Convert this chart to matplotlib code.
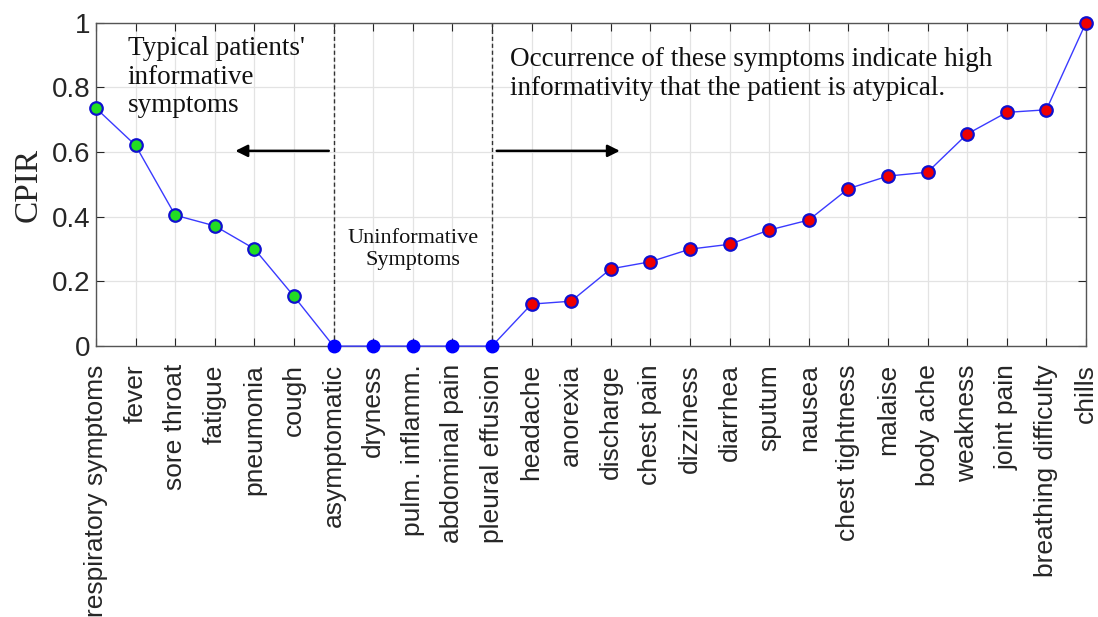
import numpy as np
import matplotlib
matplotlib.use("Agg")
import matplotlib.pyplot as plt

symptoms = ["respiratory symptoms", "fever", "sore throat", "fatigue", "pneumonia", "cough",
            "asymptomatic", "dryness", "pulm. inflamm.", "abdominal pain", "pleural effusion",
            "headache", "anorexia", "discharge", "chest pain", "dizziness", "diarrhea", "sputum",
            "nausea", "chest tightness", "malaise", "body ache", "weakness", "joint pain",
            "breathing difficulty", "chills"]
cpir = [0.736, 0.621, 0.405, 0.372, 0.301, 0.154,
        0.0, 0.0, 0.0, 0.0, 0.0,
        0.130, 0.139, 0.239, 0.261, 0.300, 0.315, 0.359,
        0.390, 0.487, 0.526, 0.538, 0.656, 0.723, 0.731, 1.0]
n_typical = 6
n_uninf = 5

x = np.arange(len(symptoms))
y = np.array(cpir)
i0, i1 = n_typical, n_typical + n_uninf - 1   # dashed boundaries

serif = "Liberation Serif"
sans = "Liberation Sans"
tc = "#262626"

fig = plt.figure(figsize=(10.98, 6.17), dpi=100)
ax = fig.add_axes([0.0874, 0.439, 0.9016, 0.524])

ax.plot(x, y, color="#3a3aff", linewidth=1.0, zorder=3, clip_on=False)
ax.plot(x[:i0], y[:i0], "o", markersize=9, markerfacecolor="#22dd22",
        markeredgecolor="#1010d0", markeredgewidth=1.6, zorder=4, clip_on=False)
ax.plot(x[i0:i1 + 1], y[i0:i1 + 1], "o", markersize=9, markerfacecolor="#0000ff",
        markeredgecolor="#0000ff", zorder=4, clip_on=False)
ax.plot(x[i1 + 1:], y[i1 + 1:], "o", markersize=9, markerfacecolor="#ee0000",
        markeredgecolor="#1010d0", markeredgewidth=1.6, zorder=4, clip_on=False)

ax.axvline(i0, ymin=0, ymax=1, color="#333333", linestyle=(0, (3, 2)), linewidth=1.0, zorder=2)
ax.axvline(i1, ymin=0, ymax=1, color="#333333", linestyle=(0, (3, 2)), linewidth=1.0, zorder=2)

ax.annotate("", xy=(3.45, 0.604), xytext=(i0 - 0.05, 0.604),
            arrowprops=dict(arrowstyle="-|>", color="black", lw=1.8, mutation_scale=18))
ax.annotate("", xy=(13.3, 0.604), xytext=(i1 + 0.05, 0.604),
            arrowprops=dict(arrowstyle="-|>", color="black", lw=1.8, mutation_scale=18))

ax.text(0.8, 0.96, "Typical patients'\ninformative\nsymptoms", family=serif, fontsize=19.5,
        va="top", ha="left", linespacing=1.2, color="#111111")
ax.text(10.45, 0.925, "Occurrence of these symptoms indicate high\ninformativity that the patient is atypical.",
        family=serif, fontsize=19.5, va="top", ha="left", linespacing=1.2, color="#111111")
ax.text(8, 0.30, "Uninformative\nSymptoms", family=serif, fontsize=16, va="center", ha="center",
        linespacing=1.2, color="#111111")

ax.set_xlim(0, len(symptoms) - 1)
ax.set_ylim(0, 1)
ax.set_xticks(x)
ax.set_xticklabels(symptoms, rotation=90, family=sans, fontsize=19, color=tc)
ax.set_yticks([0, 0.2, 0.4, 0.6, 0.8, 1])
ax.set_yticklabels(["0", "0.2", "0.4", "0.6", "0.8", "1"], family=sans, fontsize=20, color=tc)
ax.set_ylabel("CPIR", family=serif, fontsize=24, color=tc, labelpad=6)

ax.grid(True, color="#e3e3e3", linewidth=0.9)
ax.set_axisbelow(True)
ax.tick_params(axis="both", which="both", direction="in", top=True, right=True,
               length=6, color=tc, pad=4)
ax.tick_params(axis="x", pad=13)
for s in ax.spines.values():
    s.set_color("#555555")
    s.set_linewidth(1.0)

fig.savefig("out.png", dpi=100)
